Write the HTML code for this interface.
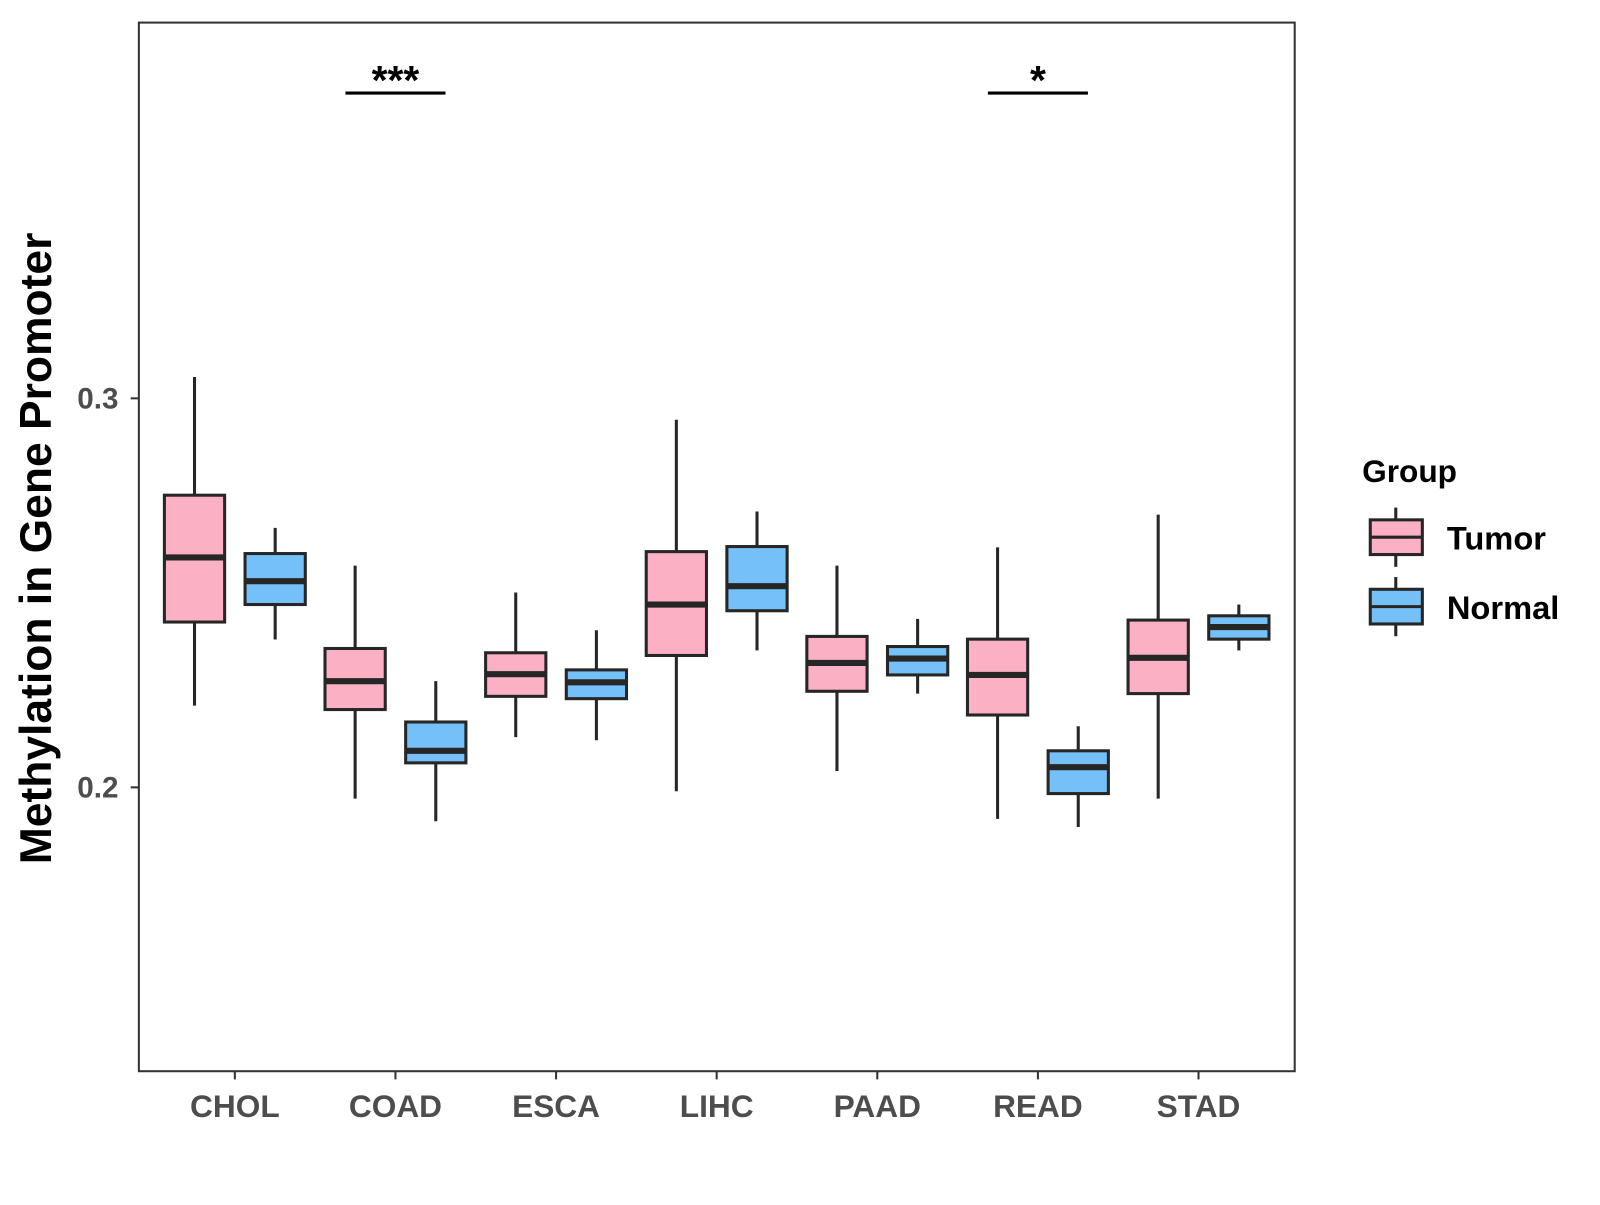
<!DOCTYPE html>
<html><head><meta charset="utf-8"><style>
html,body{margin:0;padding:0;background:#fff;}
svg text{font-family:"Liberation Sans",Arial,sans-serif;font-weight:bold;}
</style></head><body>
<svg id="chart" width="1600" height="1200" viewBox="0 0 1567 1175" xmlns="http://www.w3.org/2000/svg">
<rect x="0" y="0" width="1567" height="1175" fill="#fff"/>
<g id="plot"></g>
<text transform="translate(50,537) rotate(-90)" text-anchor="middle" font-size="43.5" fill="#000">Methylation in Gene Promoter</text>
<g>
<text x="1334" y="472" font-size="31" fill="#000">Group</text>
<g>
<line x1="1367" y1="497" x2="1367" y2="555" stroke="#262626" stroke-width="3"/>
<rect x="1342" y="509" width="51" height="34" fill="#FBB1C3" stroke="#262626" stroke-width="3"/>
<line x1="1342" y1="526" x2="1393" y2="526" stroke="#262626" stroke-width="3"/>
<text x="1417" y="538" font-size="32" fill="#000">Tumor</text>
</g>
<g>
<line x1="1367" y1="565" x2="1367" y2="623" stroke="#262626" stroke-width="3"/>
<rect x="1342" y="577" width="51" height="34" fill="#76C0F8" stroke="#262626" stroke-width="3"/>
<line x1="1342" y1="594" x2="1393" y2="594" stroke="#262626" stroke-width="3"/>
<text x="1417" y="606" font-size="32" fill="#000">Normal</text>
</g>
</g>
</svg>
<script>
const categories = ["CHOL","COAD","ESCA","LIHC","PAAD","READ","STAD"];
const tumorMin = [0.221,0.1971,0.2129,0.1990,0.2042,0.1919,0.1971];
const tumorQ1 = [0.2425,0.2200,0.2234,0.2339,0.2247,0.2186,0.2241];
const tumorMed = [0.2591,0.2273,0.2291,0.2470,0.2320,0.2289,0.2333];
const tumorQ3 = [0.2751,0.2357,0.2346,0.2606,0.2388,0.2381,0.2430];
const tumorMax = [0.3055,0.2570,0.2501,0.2945,0.2570,0.2617,0.2701];
const normalMin = [0.2380,0.1913,0.2121,0.2352,0.2241,0.1898,0.2352];
const normalQ1 = [0.2470,0.2063,0.2228,0.2454,0.2289,0.1984,0.2381];
const normalMed = [0.2530,0.2094,0.2270,0.2517,0.2331,0.2052,0.2412];
const normalQ3 = [0.2601,0.2168,0.2302,0.2619,0.2362,0.2094,0.2441];
const normalMax = [0.2667,0.2273,0.2404,0.2709,0.2433,0.2157,0.2470];
const yTicks = [0.2,0.3];
const yTickLabels = ["0.2","0.3"];
const sigCategories = ["COAD","READ"];
const sigLabels = ["***","*"];

const NS="http://www.w3.org/2000/svg";
const P={l:136,t:22,r:1268,b:1049};
function y(v){return 771-(v-0.2)*3810;}
function x(i){return 230+i*157.3;}
const g=document.getElementById('plot');
function el(tag,attrs,parent){const e=document.createElementNS(NS,tag);for(const k in attrs)e.setAttribute(k,attrs[k]);(parent||g).appendChild(e);return e;}

yTicks.forEach((v,i)=>{
  const t=el('line',{x1:P.l-8,x2:P.l,y1:y(v),y2:y(v),stroke:'#333','stroke-width':2});
  
  
  const lb=el('text',{x:P.l-20,y:y(v)+10,'text-anchor':'end','font-size':29,fill:'#4d4d4d'});
  lb.textContent=yTickLabels[i];
  
  
});
categories.forEach((c,i)=>{
  const t=el('line',{x1:x(i),x2:x(i),y1:P.b,y2:P.b+8,stroke:'#333','stroke-width':2});
  
  
  const lb=el('text',{x:x(i),y:P.b+45,'text-anchor':'middle','font-size':31,fill:'#4d4d4d'});
  lb.textContent=c;
  
  
});
function box(cx,mn,q1,md,q3,mx,fill,name){
  const grp=el('g',{});
  
  
  el('line',{x1:cx,x2:cx,y1:y(mx),y2:y(mn),stroke:'#262626','stroke-width':3},grp);
  el('rect',{x:cx-29.5,y:y(q3),width:59,height:y(q1)-y(q3),fill:fill,stroke:'#262626','stroke-width':3},grp);
  el('line',{x1:cx-29.5,x2:cx+29.5,y1:y(md),y2:y(md),stroke:'#262626','stroke-width':6},grp);
}
categories.forEach((c,i)=>{
  box(x(i)-39.5,tumorMin[i],tumorQ1[i],tumorMed[i],tumorQ3[i],tumorMax[i],'#FBB1C3','box-tumor-'+c.toLowerCase());
  box(x(i)+39.5,normalMin[i],normalQ1[i],normalMed[i],normalQ3[i],normalMax[i],'#76C0F8','box-normal-'+c.toLowerCase());
});
sigCategories.forEach((c,k)=>{
  const i=categories.indexOf(c);
  const l=el('line',{x1:x(i)-49,x2:x(i)+49,y1:91,y2:91,stroke:'#000','stroke-width':3});
  
  
  const t=el('text',{x:x(i),y:92,'text-anchor':'middle','font-size':40,fill:'#000'});
  t.textContent=sigLabels[k];
  
  
});
const fr=el('rect',{x:P.l,y:P.t,width:P.r-P.l,height:P.b-P.t,fill:'none',stroke:'#333','stroke-width':2});


</script>
</body></html>
